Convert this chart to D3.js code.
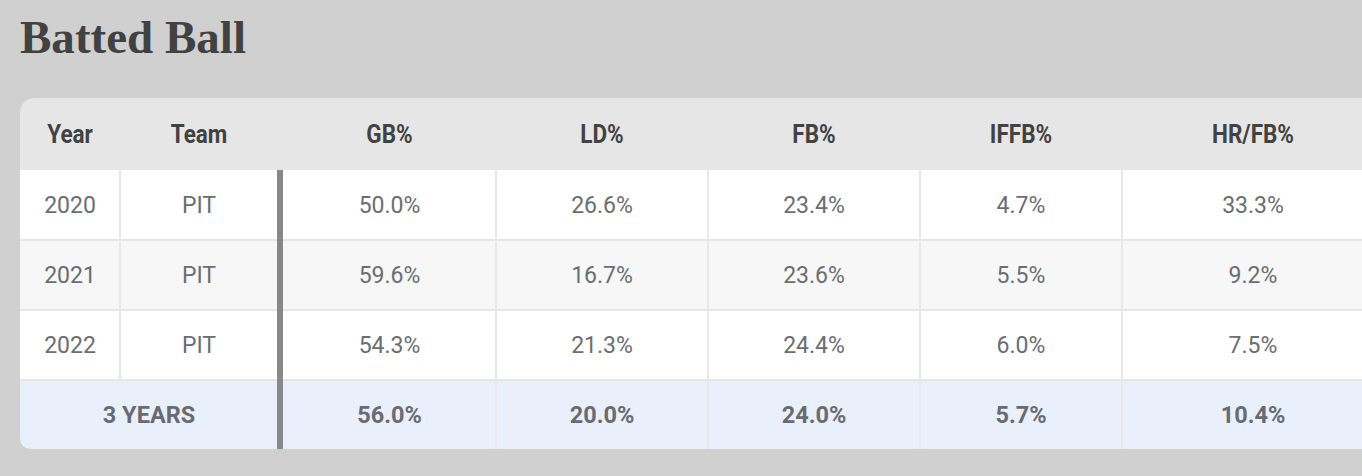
<!DOCTYPE html>
<html>
<head>
<meta charset="utf-8">
<script src="https://cdn.jsdelivr.net/npm/d3@7"></script>
<style>
  body { margin: 0; background: #d0d0d0; }
  svg { display: block; }
</style>
</head>
<body>
<div id="chart"></div>
<script>
window.addEventListener("load", main);

// table data
let title = "Batted Ball";
let columns = ["Year", "Team", "GB%", "LD%", "FB%", "IFFB%", "HR/FB%"];
let years = ["2020", "2021", "2022"];
let teams = ["PIT", "PIT", "PIT"];
let gbPct = ["50.0%", "59.6%", "54.3%"];
let ldPct = ["26.6%", "16.7%", "21.3%"];
let fbPct = ["23.4%", "23.6%", "24.4%"];
let iffbPct = ["4.7%", "5.5%", "6.0%"];
let hrfbPct = ["33.3%", "9.2%", "7.5%"];
let totalLabel = "3 YEARS";
let totals = ["56.0%", "20.0%", "24.0%", "5.7%", "10.4%"];

function main(){
  let [svgWidth, svgHeight] = [1362, 476];
  let cardLeft = 20, cardTop = 98, headH = 72;
  let colWidths = [100, 158, 218, 212, 212, 202, 262];
  let thick = 6;

  let svg = d3.select('#chart').append('svg')
    .attr('width', svgWidth)
    .attr('height', svgHeight);

  // title
  svg.append('text')
    .attr('x', cardLeft).attr('y', 53)
    .attr('font-family', '"Liberation Serif", serif')
    .attr('font-weight', 'bold')
    .attr('font-size', 46)
    .attr('fill', '#414141')
    .attr('textLength', 226)
    .attr('lengthAdjust', 'spacingAndGlyphs')
    .text(title);

  // column edges from widths
  let edges = [cardLeft];
  colWidths.forEach(w => edges.push(edges[edges.length - 1] + w));
  let xsc = d3.scaleOrdinal().domain(columns).range(edges.slice(0, -1));
  let wsc = d3.scaleOrdinal().domain(columns).range(colWidths);
  // numeric columns start after the thick divider
  let cellX = c => xsc(c) + (c === "GB%" ? thick - 1 : 0);
  let cellW = c => wsc(c) - (c === "GB%" ? thick - 1 : 0);
  let cx = c => cellX(c) + cellW(c) / 2;

  let rowKeys = years.concat(["total"]);
  let ysc = d3.scaleBand()
    .domain(rowKeys)
    .range([cardTop + headH, cardTop + headH + 70 * rowKeys.length]);

  let cardRight = edges[edges.length - 1];
  let cardBottom = ysc.range()[1] - 1;

  // rounded card clip (left corners visible)
  let r1 = 16, r2 = 12;
  let cardPath = `M${cardLeft + r1},${cardTop} H${cardRight} V${cardBottom} H${cardLeft + r2}
    Q${cardLeft},${cardBottom} ${cardLeft},${cardBottom - r2} V${cardTop + r1}
    Q${cardLeft},${cardTop} ${cardLeft + r1},${cardTop} Z`;
  svg.append('clipPath').attr('id', 'card').append('path').attr('d', cardPath);

  let card = svg.append('g').attr('clip-path', 'url(#card)');

  card.append('rect')
    .attr('x', cardLeft).attr('y', cardTop)
    .attr('width', cardRight - cardLeft).attr('height', headH)
    .attr('fill', '#e6e6e6');

  let rowFill = ['#ffffff', '#f7f7f7', '#ffffff', '#eaf0fb'];
  card.selectAll('rect.row')
    .data(rowKeys)
    .join('rect')
      .attr('class', 'row')
      .attr('x', cardLeft)
      .attr('y', d => ysc(d))
      .attr('width', cardRight - cardLeft)
      .attr('height', ysc.bandwidth())
      .attr('fill', (d, i) => rowFill[i]);

  // horizontal borders
  card.selectAll('line.hb')
    .data(rowKeys.slice(1))
    .join('line')
      .attr('class', 'hb')
      .attr('x1', cardLeft).attr('x2', cardRight)
      .attr('y1', d => ysc(d)).attr('y2', d => ysc(d))
      .attr('stroke', '#e6e6e6').attr('stroke-width', 2);

  // vertical borders
  let vcols = ["Team", "LD%", "FB%", "IFFB%", "HR/FB%"];
  card.selectAll('line.vb')
    .data(vcols)
    .join('line')
      .attr('class', 'vb')
      .attr('x1', d => xsc(d)).attr('x2', d => xsc(d))
      .attr('y1', ysc.range()[0])
      .attr('y2', d => d === "Team" ? ysc("total") : cardBottom)
      .attr('stroke', '#e8e8e8').attr('stroke-width', 2);

  // thick divider
  card.append('rect')
    .attr('x', xsc("GB%") - 1).attr('y', ysc.range()[0])
    .attr('width', thick).attr('height', cardBottom - ysc.range()[0])
    .attr('fill', '#888888');

  let squeeze = k => (sel) => sel
    .attr('transform', function(){
      let x = +d3.select(this).attr('x'), y = +d3.select(this).attr('y');
      return `translate(${x},${y}) scale(${k},1) translate(${-x},${-y})`;
    });

  // header labels
  card.selectAll('text.head')
    .data(columns)
    .join('text')
      .attr('class', 'head')
      .attr('x', d => cx(d))
      .attr('y', cardTop + headH / 2)
      .attr('dy', '0.36em')
      .attr('text-anchor', 'middle')
      .attr('font-family', 'Roboto, sans-serif')
      .attr('font-weight', 'bold')
      .attr('font-size', 25)
      .attr('fill', '#424242')
      .text(d => d)
      .call(squeeze(0.9));

  // body cells
  let cols = [years, teams, gbPct, ldPct, fbPct, iffbPct, hrfbPct];
  let cells = [];
  years.forEach((yr, i) => {
    columns.forEach((c, j) => cells.push({row: yr, col: c, val: cols[j][i]}));
  });
  card.selectAll('text.cell')
    .data(cells)
    .join('text')
      .attr('class', 'cell')
      .attr('x', d => cx(d.col))
      .attr('y', d => ysc(d.row) + ysc.bandwidth() / 2)
      .attr('dy', '0.36em')
      .attr('text-anchor', 'middle')
      .attr('font-family', 'Roboto, sans-serif')
      .attr('font-size', 23)
      .attr('fill', '#6a6d72')
      .text(d => d.val);

  // totals row
  let totalCells = [{x: (xsc("Year") + xsc("GB%")) / 2, val: totalLabel}]
    .concat(columns.slice(2).map((c, i) => ({x: cx(c), val: totals[i]})));
  card.selectAll('text.total')
    .data(totalCells)
    .join('text')
      .attr('class', 'total')
      .attr('x', d => d.x)
      .attr('y', ysc("total") + ysc.bandwidth() / 2)
      .attr('dy', '0.36em')
      .attr('text-anchor', 'middle')
      .attr('font-family', 'Roboto, sans-serif')
      .attr('font-weight', 'bold')
      .attr('font-size', 23.5)
      .attr('fill', '#686b71')
      .text(d => d.val);
}
</script>
</body>
</html>
